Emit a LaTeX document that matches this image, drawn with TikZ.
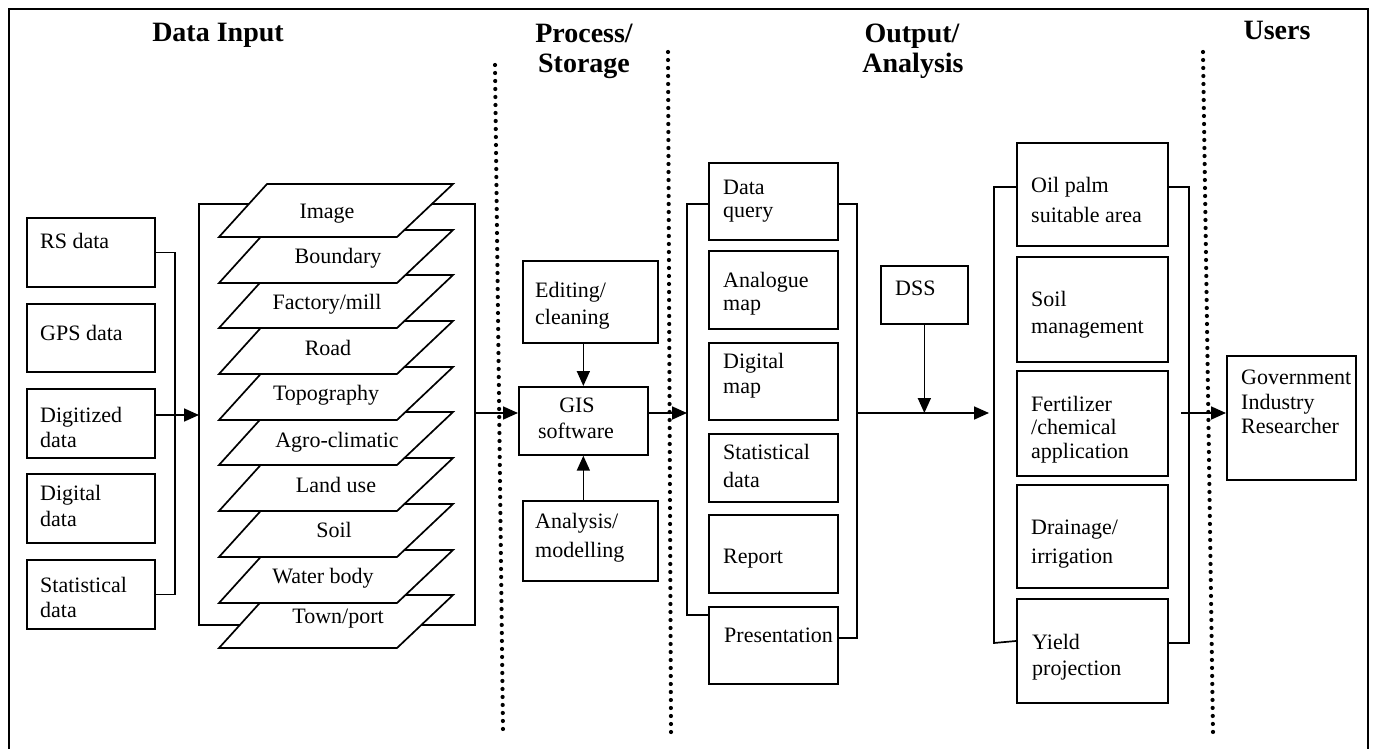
\documentclass[tikz,border=0pt]{standalone}
\usepackage{fontspec}
\setmainfont{Liberation Serif}
\usetikzlibrary{arrows.meta,calc}
\begin{document}
\begin{tikzpicture}[x=1pt,y=-1pt,
 box/.style={draw, line width=1.7pt, fill=white, inner sep=0pt, anchor=north west},
 txt/.style={font=\fontsize{22}{25}\selectfont, inner sep=0pt, anchor=base west},
 ctxt/.style={font=\fontsize{22}{25}\selectfont, inner sep=0pt, anchor=base},
 head/.style={font=\fontsize{28}{30}\selectfont\bfseries, inner sep=0pt, anchor=base},
 ln/.style={line width=1.7pt},
 arr/.style={line width=1.7pt, -{Triangle[length=15pt,width=13pt]}},
 sep/.style={line width=4.2pt, line cap=round, dash pattern=on 0pt off 8pt},
 layer/.style={draw, line width=1.7pt, fill=white, line join=miter}]
\useasboundingbox (0,0) rectangle (1375,749);
\draw[line width=1.4pt] (9,749) -- (9,9) -- (1368,9) -- (1368,749);

% headers
\node[head] (hin) at (218,42) {Data Input};
\node[head] (hproc) at (584,43) {Process/};
\node[head] (hstor) at (584,73) {Storage};
\node[head] (hout) at (912,43) {Output/};
\node[head] (hana) at (913,73) {Analysis};
\node[head] (husr) at (1277,40) {Users};

% separators
\draw[sep] (495,65) -- (503,731);
\draw[sep] (668,52) -- (671,733);
\draw[sep] (1203,52) -- (1213,733);

% ---------- data input ----------
\node[box, minimum width=128pt, minimum height=69pt] (rs) at (26,217) {};
\node[box, minimum width=128pt, minimum height=68pt] (gps) at (26,303) {};
\node[box, minimum width=128pt, minimum height=69pt] (dig) at (26,388) {};
\node[box, minimum width=128pt, minimum height=69pt] (digl) at (26,473) {};
\node[box, minimum width=128pt, minimum height=69pt] (stat) at (26,559) {};
\node[txt] (t1) at (40,248) {RS data};
\node[txt] (t2) at (40,340) {GPS data};
\node[txt] (t3) at (40,422) {Digitized};
\node[txt] (t4) at (40,447) {data};
\node[txt] (t5) at (40,500) {Digital};
\node[txt] (t6) at (40,526) {data};
\node[txt] (t7) at (40,592) {Statistical};
\node[txt] (t8) at (40,617) {data};

\coordinate (inbr) at (175,0);
\coordinate (lbl) at (199,415);
\draw[ln] (rs.east) -| (inbr |- stat.east) -- (stat.east);
\draw[arr] (dig.east |- lbl) -- (lbl);

% layer bracket
\draw[ln] (260,204) -- (199,204) -- (199,625) -- (260,625);
\draw[ln] (420,204) -- (475,204) -- (475,625) -- (410,625);

% layers (drawn bottom first)
\draw[layer] (267,595) -- (453,595) -- (397,648) -- (219,648) -- cycle;
\draw[layer] (267,550) -- (453,550) -- (397,603) -- (219,603) -- cycle;
\draw[layer] (267,504) -- (453,504) -- (397,557) -- (219,557) -- cycle;
\draw[layer] (267,458) -- (453,458) -- (397,511) -- (219,511) -- cycle;
\draw[layer] (267,412) -- (453,412) -- (397,465) -- (219,465) -- cycle;
\draw[layer] (267,367) -- (453,367) -- (397,420) -- (219,420) -- cycle;
\draw[layer] (267,321) -- (453,321) -- (397,374) -- (219,374) -- cycle;
\draw[layer] (267,275) -- (453,275) -- (397,328) -- (219,328) -- cycle;
\draw[layer] (267,230) -- (453,230) -- (397,283) -- (219,283) -- cycle;
\draw[layer] (267,184) -- (453,184) -- (397,237) -- (219,237) -- cycle;
\node[ctxt] (l0) at (327,218) {Image};
\node[ctxt] (l1) at (338,263) {Boundary};
\node[ctxt] (l2) at (327,309) {Factory/mill};
\node[ctxt] (l3) at (328,355) {Road};
\node[ctxt] (l4) at (326,400) {Topography};
\node[ctxt] (l5) at (337,447) {Agro-climatic};
\node[ctxt] (l6) at (336,492) {Land use};
\node[ctxt] (l7) at (334,537) {Soil};
\node[ctxt] (l8) at (323,583) {Water body};
\node[ctxt] (l9) at (338,623) {Town/port};

% ---------- process ----------
\node[box, minimum width=135pt, minimum height=82pt] (edit) at (522,260) {};
\node[box, minimum width=129pt, minimum height=68pt] (gis) at (518,386) {};
\node[box, minimum width=135pt, minimum height=80pt] (ana) at (522,500) {};
\node[txt] (e1) at (535,297) {Editing/};
\node[txt] (e2) at (535,324) {cleaning};
\node[ctxt] (g1) at (577,412) {GIS};
\node[ctxt] (g2) at (576,438) {software};
\node[txt] (a1) at (535,528) {Analysis/};
\node[txt] (a2) at (535,557) {modelling};

\coordinate (lbr) at (475,413);
\draw[arr] (lbr) -- (lbr -| gis.west);
\draw[arr] (edit.south -| gis.north) -- (gis.north);
\draw[arr] (ana.north -| gis.south) -- (gis.south);

% ---------- output ----------
\draw[ln] (708,204) -- (687,204) -- (687,615) -- (708,615);
\draw[ln] (837,204) -- (857,204) -- (857,638) -- (837,638);
\node[box, minimum width=129pt, minimum height=77pt] (dq) at (708,162) {};
\node[box, minimum width=129pt, minimum height=78pt] (am) at (708,250) {};
\node[box, minimum width=129pt, minimum height=77pt] (dm) at (708,342) {};
\node[box, minimum width=129pt, minimum height=68pt] (sd) at (708,433) {};
\node[box, minimum width=129pt, minimum height=78pt] (rep) at (708,514) {};
\node[box, minimum width=129pt, minimum height=77pt] (pres) at (708,606) {};
\node[txt] (o1) at (723,194) {Data};
\node[txt] (o2) at (723,217) {query};
\node[txt] (o3) at (723,287) {Analogue};
\node[txt] (o4) at (723,310) {map};
\node[txt] (o5) at (723,368) {Digital};
\node[txt] (o6) at (723,393) {map};
\node[txt] (o7) at (723,459) {Statistical};
\node[txt] (o8) at (723,487) {data};
\node[txt] (o9) at (723,563) {Report};
\node[txt] (o10) at (724,642) {Presentation};

\coordinate (obl) at (687,413);
\draw[arr] (gis.east |- obl) -- (obl);

\coordinate (orb) at (857,413);
\coordinate (rgl) at (989,413);
\draw[arr] (orb) -- (rgl);
\node[box, minimum width=87pt, minimum height=58pt] (dss) at (880,265) {};
\node[txt] (d1) at (895,295) {DSS};
\draw[arr] (dss.south) -- (dss.south |- orb);

% ---------- applications ----------
\draw[ln] (1016,187) -- (994,187) -- (994,643) -- (1016,641);
\draw[ln] (1167,187) -- (1189,187) -- (1189,643) -- (1167,643);
\node[box, minimum width=151pt, minimum height=103pt] (oil) at (1016,142) {};
\node[box, minimum width=151pt, minimum height=105pt] (soilm) at (1016,256) {};
\node[box, minimum width=151pt, minimum height=105pt] (fert) at (1016,370) {};
\node[box, minimum width=151pt, minimum height=103pt] (drain) at (1016,484) {};
\node[box, minimum width=151pt, minimum height=104pt] (yield) at (1016,598) {};
\node[txt] (r1) at (1031,192) {Oil palm};
\node[txt] (r2) at (1031,222) {suitable area};
\node[txt] (r3) at (1031,306) {Soil};
\node[txt] (r4) at (1031,333) {management};
\node[txt] (r5) at (1031,411) {Fertilizer};
\node[txt] (r6) at (1031,434) {/chemical};
\node[txt] (r7) at (1031,458) {application};
\node[txt] (r8) at (1031,534) {Drainage/};
\node[txt] (r9) at (1031,563) {irrigation};
\node[txt] (r10) at (1032,649) {Yield};
\node[txt] (r11) at (1032,675) {projection};

% ---------- users ----------
\node[box, minimum width=129pt, minimum height=124pt] (users) at (1226,355) {};
\node[txt] (u1) at (1241,384) {Government};
\node[txt] (u2) at (1241,409) {Industry};
\node[txt] (u3) at (1241,433) {Researcher};
\coordinate (ua) at (1181,413);
\draw[arr] (ua) -- (ua -| users.west);
\end{tikzpicture}
\end{document}
